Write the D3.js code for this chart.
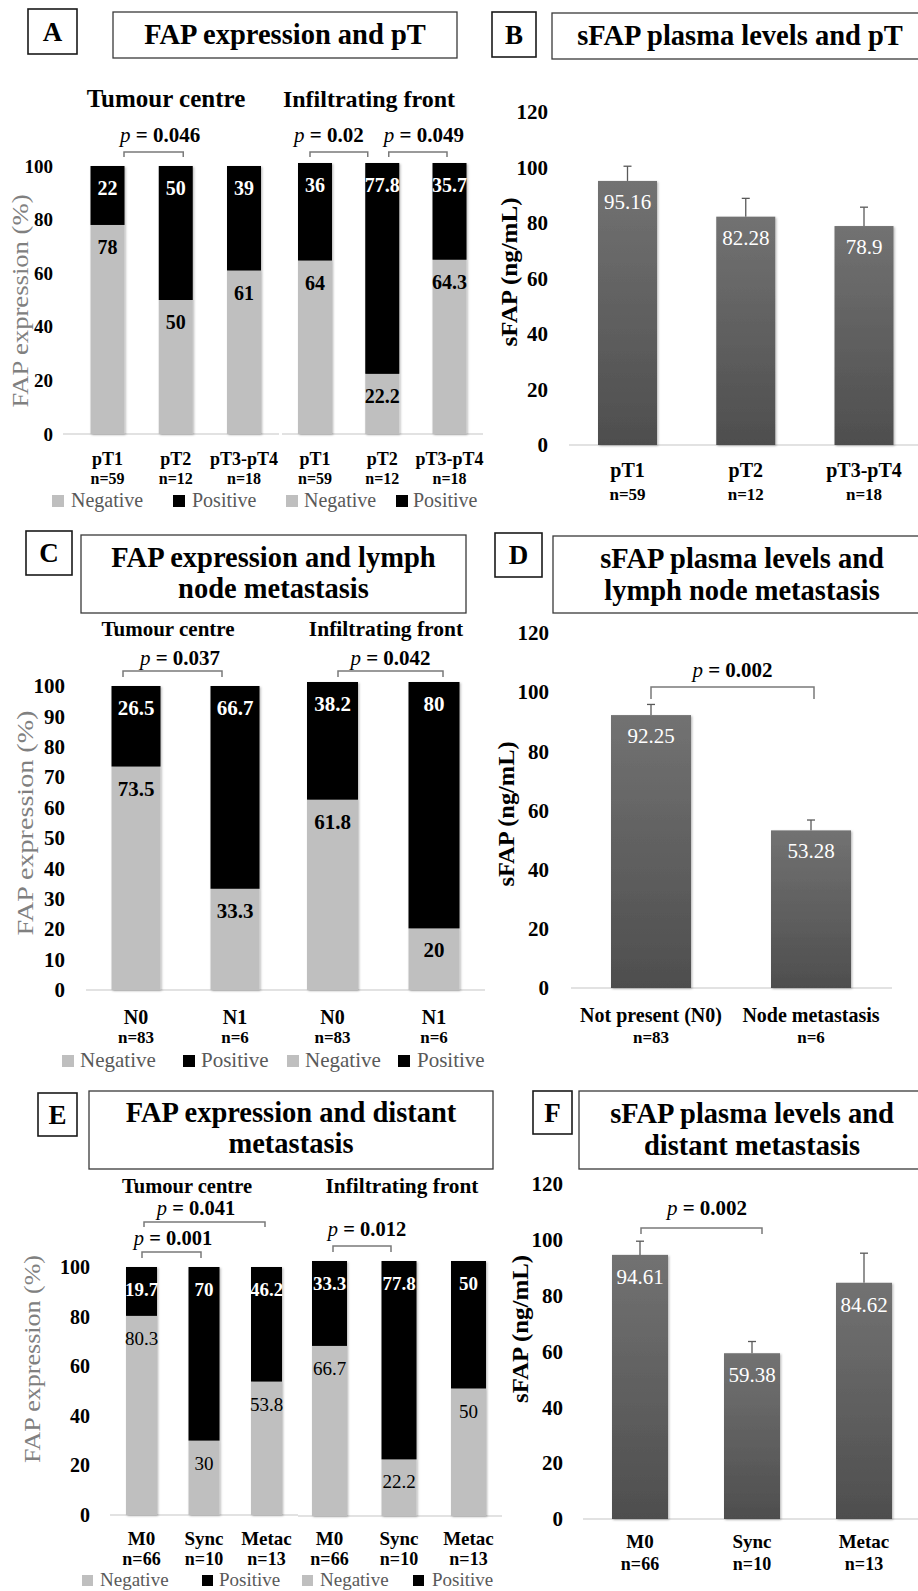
<!DOCTYPE html>
<html><head><meta charset="utf-8">
<script src="https://cdn.jsdelivr.net/npm/d3@7"></script>
<style>
body{margin:0;background:#fff}
svg{display:block}
text{font-family:"Liberation Serif","Times New Roman",serif}
</style>
</head><body>
<svg id="c" width="918" height="1591"></svg>
<script>
// ---------------- DATA ----------------
const legendLabels = ["Negative", "Positive"];
const subtitleLabels = ["Tumour centre", "Infiltrating front"];
const percentTitle = "FAP expression (%)";
const sfapTitle = "sFAP (ng/mL)";

const pTCategories = ["pT1", "pT2", "pT3-pT4"];
const pTCounts = ["n=59", "n=12", "n=18"];
const pTCentreNegative = [78, 50, 61];
const pTCentrePositive = [22, 50, 39];
const pTFrontNegative = [64, 22.2, 64.3];
const pTFrontPositive = [36, 77.8, 35.7];
const pTsFAPMean = [95.16, 82.28, 78.9];
const pTsFAPError = [5.3, 6.6, 6.8];
const pTCentreP = [{a: "pT1", b: "pT2", p: "0.046"}];
const pTFrontP = [{a: "pT1", b: "pT2", p: "0.02"}, {a: "pT2", b: "pT3-pT4", p: "0.049"}];

const nCategories = ["N0", "N1"];
const nCounts = ["n=83", "n=6"];
const nCentreNegative = [73.5, 33.3];
const nCentrePositive = [26.5, 66.7];
const nFrontNegative = [61.8, 20];
const nFrontPositive = [38.2, 80];
const nCentreP = [{a: "N0", b: "N1", p: "0.037"}];
const nFrontP = [{a: "N0", b: "N1", p: "0.042"}];
const nsFAPCategories = ["Not present (N0)", "Node metastasis"];
const nsFAPMean = [92.25, 53.28];
const nsFAPError = [3.6, 3.5];
const nsFAPP = [{a: "Not present (N0)", b: "Node metastasis", p: "0.002"}];

const mCategories = ["M0", "Sync", "Metac"];
const mCounts = ["n=66", "n=10", "n=13"];
const mCentreNegative = [80.3, 30, 53.8];
const mCentrePositive = [19.7, 70, 46.2];
const mFrontNegative = [66.7, 22.2, 50];
const mFrontPositive = [33.3, 77.8, 50];
const mCentreP = [{a: "M0", b: "Metac", p: "0.041"}, {a: "M0", b: "Sync", p: "0.001"}];
const mFrontP = [{a: "M0", b: "Sync", p: "0.012"}];
const msFAPMean = [94.61, 59.38, 84.62];
const msFAPError = [4.9, 4.2, 10.6];
const msFAPP = [{a: "M0", b: "Sync", p: "0.002"}];

const percentTicks20 = [0, 20, 40, 60, 80, 100];
const percentTicks10 = [0, 10, 20, 30, 40, 50, 60, 70, 80, 90, 100];
const sfapTicks = [0, 20, 40, 60, 80, 100, 120];

const panelLetters = ["A", "B", "C", "D", "E", "F"];
const panelTitles = [
  ["FAP expression and pT"],
  ["sFAP plasma levels and pT"],
  ["FAP expression and lymph", "node metastasis"],
  ["sFAP plasma levels and", "lymph node metastasis"],
  ["FAP expression and distant", "metastasis"],
  ["sFAP plasma levels and", "distant metastasis"]
];

// ---------------- STYLE / LAYOUT ----------------
const FONT = '"Liberation Serif","Times New Roman",serif';
const segColor = {Negative: "#bfbfbf", Positive: "#000000"};
const svg = d3.select("#c");
const defs = svg.append("defs");
const f = defs.append("filter").attr("id", "sh").attr("x", "-20%").attr("y", "-5%").attr("width", "140%").attr("height", "110%");
f.append("feDropShadow").attr("dx", 1.2).attr("dy", 1).attr("stdDeviation", 1.2).attr("flood-color", "#000").attr("flood-opacity", 0.28);
const gr = defs.append("linearGradient").attr("id", "barGrad").attr("x1", 0).attr("y1", 0).attr("x2", 0).attr("y2", 1);
gr.append("stop").attr("offset", "0%").attr("stop-color", "#727272");
gr.append("stop").attr("offset", "100%").attr("stop-color", "#4e4e4e");

function txt(g, x, y, s, o = {}) {
  return g.append("text").attr("x", x).attr("y", y).text(s)
    .attr("font-family", FONT)
    .attr("font-size", o.size || 16)
    .attr("font-weight", o.weight || "normal")
    .attr("text-anchor", o.anchor || "middle")
    .attr("fill", o.fill || "#000");
}

const headers = [
  {letter: [28, 9, 49, 45, 52.5, 41], box: [113, 12, 344, 46], cx: 285, ys: [44]},
  {letter: [492, 12, 44, 45, 514, 44], box: [552, 13, 380, 46], cx: 740, ys: [45]},
  {letter: [26, 531, 46, 44, 49, 562], box: [81, 535, 385, 78], cx: 273.5, ys: [567, 598]},
  {letter: [495, 533, 47, 44, 518.5, 564], box: [553, 536, 380, 77], cx: 742, ys: [568, 600]},
  {letter: [38, 1093, 39, 43, 57.5, 1124], box: [89, 1091, 404, 78], cx: 291, ys: [1122, 1153]},
  {letter: [533, 1091, 39, 43, 552.5, 1122], box: [579, 1091, 360, 78], cx: 752, ys: [1123, 1155]}
];

function drawHeader(i) {
  const h = headers[i];
  const g = svg.append("g");
  const L = h.letter;
  g.append("rect").attr("x", L[0]).attr("y", L[1]).attr("width", L[2]).attr("height", L[3])
    .attr("fill", "#fff").attr("stroke", "#1a1a1a").attr("stroke-width", 1.6);
  txt(g, L[4], L[5], panelLetters[i], {size: 27, weight: "bold"});
  const B = h.box;
  g.append("rect").attr("x", B[0]).attr("y", B[1]).attr("width", B[2]).attr("height", B[3])
    .attr("fill", "#fff").attr("stroke", "#3a3a3a").attr("stroke-width", 1.3);
  panelTitles[i].forEach((t, k) => txt(g, h.cx, h.ys[k], t, {size: 28.5, weight: "bold"}));
}

function drawPValue(g, x, item, lay) {
  const [dx0, dx1, tdx, ty, by, ly] = lay;
  const x0 = x(item.a) + dx0, x1 = x(item.b) + dx1;
  g.append("path").attr("d", `M${x0},${ly}V${by}H${x1}V${ly}`)
    .attr("fill", "none").attr("stroke", "#7a7a7a").attr("stroke-width", 1.5);
  const t = g.append("text").attr("x", (x0 + x1) / 2 + tdx).attr("y", ty)
    .attr("text-anchor", "middle").attr("font-family", FONT).attr("font-size", lay[6] || 21).attr("fill", "#000");
  t.append("tspan").attr("font-style", "italic").text("p");
  t.append("tspan").attr("font-weight", "bold").text(" = " + item.p);
}

function drawYTicks(g, y, ticks, right, size) {
  const ax = d3.axisLeft(y).tickValues(ticks).tickSize(0).tickPadding(0).tickFormat(d3.format("d"));
  const a = g.append("g").attr("transform", `translate(${right},0)`).call(ax);
  a.select(".domain").remove();
  a.selectAll("text").attr("font-family", FONT).attr("font-size", size)
    .attr("font-weight", "bold").attr("fill", "#000");
}

function drawYTitle(g, t, o) {
  g.append("text").attr("transform", `translate(${o.x},${o.cy}) rotate(-90)`)
    .attr("text-anchor", "middle").attr("font-family", FONT).attr("font-size", o.size)
    .attr("font-weight", o.weight || "normal").attr("fill", o.fill || "#000")
    .attr("textLength", o.len).attr("lengthAdjust", "spacingAndGlyphs").text(t);
}

function drawStacked(cfg) {
  const g = svg.append("g");
  let yFirst = null;
  cfg.subcharts.forEach((sc, si) => {
    const x = d3.scalePoint().domain(cfg.categories).range(sc.xRange);
    const y = d3.scaleLinear().domain([0, 100]).range(sc.yRange);
    if (si === 0) yFirst = y;
    const rows = cfg.categories.map((c, i) => ({cat: c, Negative: sc.neg[i], Positive: sc.pos[i]}));
    const series = d3.stack().keys(legendLabels)(rows);
    sc.axis.forEach(a => g.append("line").attr("x1", a[0]).attr("x2", a[1]).attr("y1", a[2]).attr("y2", a[2])
      .attr("stroke", "#d9d9d9").attr("stroke-width", 1.5));
    const gb = g.append("g").attr("filter", "url(#sh)");
    gb.selectAll("g").data(series).join("g").attr("fill", s => segColor[s.key])
      .selectAll("rect").data(s => s).join("rect")
      .attr("x", d => x(d.data.cat) - sc.barWidth / 2)
      .attr("y", d => y(d[1]))
      .attr("width", sc.barWidth)
      .attr("height", d => y(d[0]) - y(d[1]));
    series.forEach(s => s.forEach(d => {
      const pos = s.key === "Positive";
      txt(g, x(d.data.cat), y(d[1]) + cfg.valueDy, String(d.data[s.key]), {
        size: cfg.valueSize, weight: pos ? "bold" : cfg.negWeight, fill: pos ? "#fff" : "#000"
      });
    }));
    txt(g, sc.subX, cfg.subY, subtitleLabels[si], {size: sc.subSize, weight: "bold"});
    cfg.categories.forEach((c, i) => {
      txt(g, x(c), cfg.catY, c, {size: cfg.catSize, weight: "bold"});
      txt(g, x(c), cfg.nY, cfg.counts[i], {size: cfg.nSize, weight: "bold"});
    });
    sc.pvals.forEach((p, k) => drawPValue(g, x, p, sc.pLayout[k]));
  });
  drawYTicks(g, yFirst, cfg.ticks, cfg.tickRight, cfg.tickSize);
  drawYTitle(g, percentTitle, Object.assign({fill: "#808080"}, cfg.yTitle));
  const L = cfg.legend;
  L.xs.forEach((sx, k) => {
    const key = legendLabels[k % 2];
    g.append("rect").attr("x", sx).attr("y", L.ys[k] - L.sq).attr("width", L.sq).attr("height", L.sq).attr("fill", segColor[key]);
    txt(g, L.tx[k], L.ys[k], key, {size: L.size, anchor: "start", fill: "#595959"});
  });
}

function drawSFAP(cfg) {
  const g = svg.append("g");
  const x = d3.scalePoint().domain(cfg.categories).range(cfg.xRange);
  const y = d3.scaleLinear().domain([0, 120]).range(cfg.yRange);
  g.append("line").attr("x1", cfg.axis[0]).attr("x2", cfg.axis[1]).attr("y1", cfg.axis[2]).attr("y2", cfg.axis[2])
    .attr("stroke", "#d9d9d9").attr("stroke-width", 1.5);
  const rows = cfg.categories.map((c, i) => ({cat: c, mean: cfg.mean[i], err: cfg.err[i]}));
  const ge = g.append("g").attr("stroke", "#595959").attr("stroke-width", 1.3);
  rows.forEach(r => {
    ge.append("line").attr("x1", x(r.cat)).attr("x2", x(r.cat)).attr("y1", y(r.mean)).attr("y2", y(r.mean + r.err));
    ge.append("line").attr("x1", x(r.cat) - 4).attr("x2", x(r.cat) + 4).attr("y1", y(r.mean + r.err)).attr("y2", y(r.mean + r.err));
  });
  g.append("g").attr("filter", "url(#sh)").selectAll("rect").data(rows).join("rect")
    .attr("x", d => x(d.cat) - cfg.barWidth / 2).attr("y", d => y(d.mean))
    .attr("width", cfg.barWidth).attr("height", d => y(0) - y(d.mean))
    .attr("fill", "url(#barGrad)");
  rows.forEach(r => txt(g, x(r.cat), y(r.mean) + cfg.valueDy, String(r.mean), {size: cfg.valueSize, fill: "#fff"}));
  drawYTicks(g, y, sfapTicks, cfg.tickRight, cfg.tickSize);
  drawYTitle(g, sfapTitle, Object.assign({weight: "bold"}, cfg.yTitle));
  cfg.categories.forEach((c, i) => {
    txt(g, x(c), cfg.catY, c, {size: cfg.catSize, weight: "bold"});
    txt(g, x(c), cfg.nY, cfg.counts[i], {size: cfg.nSize, weight: "bold"});
  });
  (cfg.pvals || []).forEach((p, k) => drawPValue(g, x, p, cfg.pLayout[k]));
}

// ---------------- PANELS ----------------
headers.forEach((h, i) => drawHeader(i));

// A
drawStacked({
  categories: pTCategories, counts: pTCounts,
  subcharts: [
    {neg: pTCentreNegative, pos: pTCentrePositive, xRange: [107.5, 244], yRange: [434, 166], barWidth: 34,
     subX: 166, subSize: 25, axis: [[63, 279, 434]], pvals: pTCentreP, pLayout: [[16.5, 7.5, 6.5, 142, 152, 157]]},
    {neg: pTFrontNegative, pos: pTFrontPositive, xRange: [315, 449.5], yRange: [434, 163], barWidth: 34,
     subX: 369, subSize: 24, axis: [[282, 483, 434]], pvals: pTFrontP,
     pLayout: [[-5, -14.5, -10, 142, 152, 157], [6.5, -2.5, 6, 142, 152, 157]]}
  ],
  subY: 107, ticks: percentTicks20, tickRight: 53, tickSize: 19,
  valueSize: 20, valueDy: 29, negWeight: "bold",
  catY: 465, nY: 484, catSize: 18, nSize: 16,
  legend: {xs: [52, 173, 286, 396], tx: [71, 192, 304, 413], ys: [507, 507, 507, 507], size: 20, sq: 12},
  yTitle: {x: 28, cy: 301, len: 213, size: 24}
});

// B
drawSFAP({
  categories: pTCategories, counts: pTCounts, mean: pTsFAPMean, err: pTsFAPError,
  xRange: [627.5, 864], yRange: [445, 112], barWidth: 59, axis: [569, 918, 445],
  tickRight: 548, tickSize: 21, valueSize: 21, valueDy: 28,
  catY: 477, nY: 500, catSize: 20, nSize: 17,
  yTitle: {x: 517, cy: 272, len: 149, size: 24}
});

// C
drawStacked({
  categories: nCategories, counts: nCounts,
  subcharts: [
    {neg: nCentreNegative, pos: nCentrePositive, xRange: [136, 235], yRange: [990, 686], barWidth: 49,
     subX: 168, subSize: 21, axis: [[86, 286, 990]], pvals: nCentreP, pLayout: [[-13, -13, 7.5, 665, 671, 677]]},
    {neg: nFrontNegative, pos: nFrontPositive, xRange: [332.5, 434], yRange: [990, 682], barWidth: 51,
     subX: 386, subSize: 21.5, axis: [[286, 485, 990]], pvals: nFrontP, pLayout: [[5.5, 9, 0, 665, 671, 677]]}
  ],
  subY: 636, ticks: percentTicks10, tickRight: 65, tickSize: 21,
  valueSize: 21, valueDy: 29, negWeight: "bold",
  catY: 1024, nY: 1043, catSize: 20, nSize: 17,
  legend: {xs: [62, 183, 287, 398], tx: [80, 201, 305, 417], ys: [1067, 1067, 1067, 1067], size: 21, sq: 12},
  yTitle: {x: 33, cy: 823, len: 225, size: 24}
});

// D
drawSFAP({
  categories: nsFAPCategories, counts: nCounts, mean: nsFAPMean, err: nsFAPError,
  xRange: [651, 811], yRange: [988, 633], barWidth: 80, axis: [571, 892, 988],
  tickRight: 549, tickSize: 21, valueSize: 21, valueDy: 28,
  catY: 1022, nY: 1043, catSize: 20, nSize: 17,
  yTitle: {x: 514, cy: 814, len: 145, size: 24},
  pvals: nsFAPP, pLayout: [[0, 3, 0, 677, 687, 699]]
});

// E
drawStacked({
  categories: mCategories, counts: mCounts,
  subcharts: [
    {neg: mCentreNegative, pos: mCentrePositive, xRange: [141.5, 266.5], yRange: [1515, 1267], barWidth: 31,
     subX: 187, subSize: 20.5, axis: [[110, 298, 1515]], pvals: mCentreP,
     pLayout: [[2.5, -1.5, -8.5, 1215, 1222, 1227, 20.5], [0.5, -3, 1.5, 1245, 1252, 1258, 20.5]]},
    {neg: mFrontNegative, pos: mFrontPositive, xRange: [329.5, 468.5], yRange: [1516, 1261], barWidth: 35,
     subX: 402, subSize: 21.3, axis: [[298, 502, 1516]], pvals: mFrontP,
     pLayout: [[3.5, -8, 5, 1236, 1246, 1252, 20.5]]}
  ],
  subY: 1193, ticks: percentTicks20, tickRight: 90, tickSize: 20,
  valueSize: 19, valueDy: 29, negWeight: "normal",
  catY: 1545, nY: 1565, catSize: 19, nSize: 18,
  legend: {xs: [82, 202, 302, 413], tx: [100, 219, 320, 432], ys: [1586, 1586, 1586, 1586], size: 19, sq: 11},
  yTitle: {x: 40, cy: 1359, len: 208, size: 24}
});

// F
drawSFAP({
  categories: mCategories, counts: mCounts, mean: msFAPMean, err: msFAPError,
  xRange: [640, 864], yRange: [1519, 1184], barWidth: 56, axis: [583, 918, 1519],
  tickRight: 563, tickSize: 21, valueSize: 21, valueDy: 29,
  catY: 1548, nY: 1570, catSize: 19, nSize: 18,
  yTitle: {x: 528, cy: 1329, len: 148, size: 24},
  pvals: msFAPP, pLayout: [[1, 10, 5.5, 1215, 1228, 1234]]
});
</script>
</body></html>
